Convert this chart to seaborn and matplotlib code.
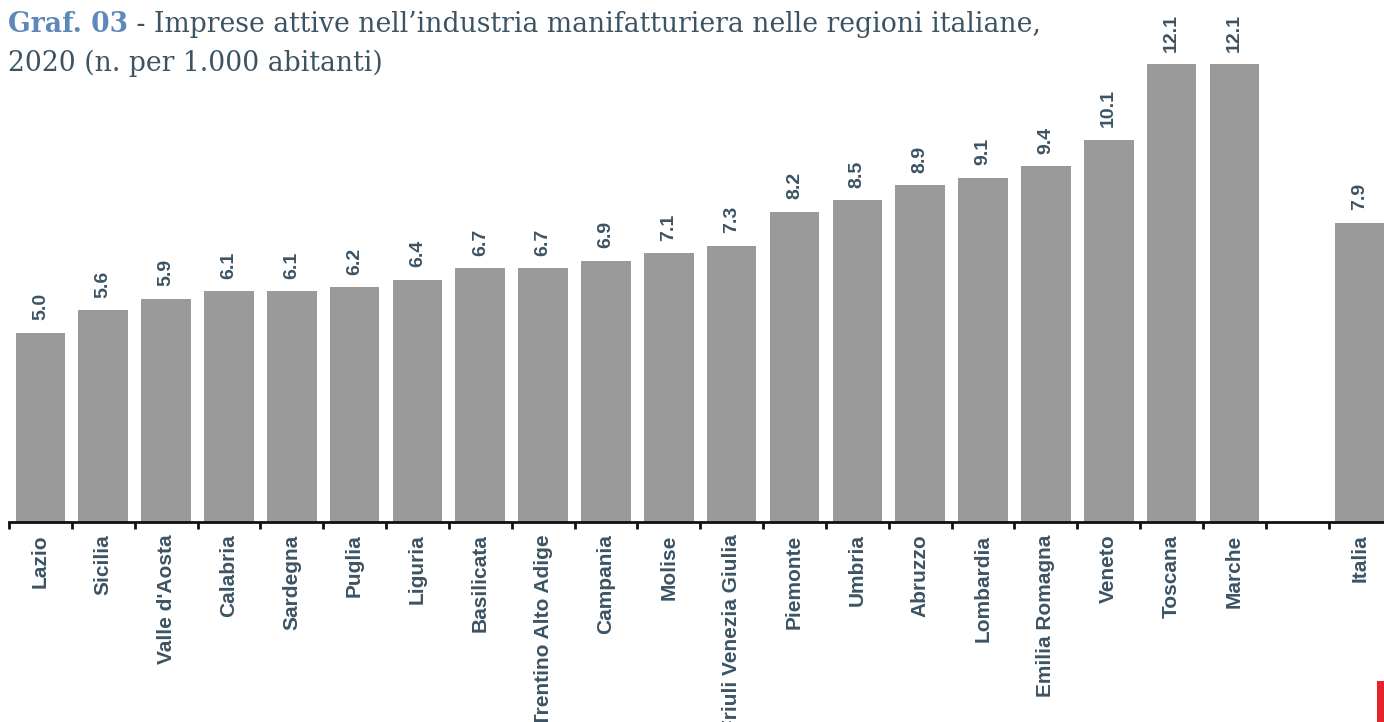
import matplotlib
matplotlib.use("Agg")
import matplotlib.pyplot as plt
from matplotlib.patches import Rectangle
from matplotlib.ticker import FixedLocator
import seaborn as sns
import pandas as pd
import numpy as np

# Active manufacturing firms per 1,000 inhabitants, 2020
regions = ["Lazio", "Sicilia", "Valle d'Aosta", "Calabria", "Sardegna", "Puglia",
           "Liguria", "Basilicata", "Trentino Alto Adige", "Campania", "Molise",
           "Friuli Venezia Giulia", "Piemonte", "Umbria", "Abruzzo", "Lombardia",
           "Emilia Romagna", "Veneto", "Toscana", "Marche"]
region_values = [5.0, 5.6, 5.9, 6.1, 6.1, 6.2, 6.4, 6.7, 6.7, 6.9, 7.1,
                 7.3, 8.2, 8.5, 8.9, 9.1, 9.4, 10.1, 12.1, 12.1]
national_label = "Italia"
national_value = 7.9

TEXT = "#3c5364"
BLUE = "#5d89ba"
BAR = "#999a99"

sns.set_theme(style="white")
plt.rcParams["font.family"] = ["Liberation Sans", "DejaVu Sans"]

df = pd.DataFrame({"area": regions + [national_label],
                   "value": region_values + [national_value]})
order = regions + [" ", national_label]

fig = plt.figure(figsize=(13.84, 7.22), dpi=100)
W, H = 1384, 722
ax = fig.add_axes([9 / W, (H - 522) / H, (W - 9) / W, 522 / H])

sns.barplot(data=df, x="area", y="value", order=order, color=BAR,
            saturation=1, width=0.79, linewidth=0, edgecolor="none", ax=ax)

ax.set_xlim(-0.5, (W - 9) / 62.84 - 0.5)
ax.set_ylim(0, 522 / 37.85)

for container in ax.containers:
    ax.bar_label(container, fmt="%.1f", padding=9, rotation=90,
                 fontsize=14, fontweight="bold", color=TEXT)

ax.set_xlabel("")
ax.set_ylabel("")
ax.set_yticks([])
for side in ["top", "right", "left"]:
    ax.spines[side].set_visible(False)
ax.spines["bottom"].set_color("#111111")
ax.spines["bottom"].set_linewidth(2)

ax.xaxis.set_minor_locator(FixedLocator(np.arange(-0.5, len(order), 1.0)))
ax.tick_params(axis="x", which="minor", bottom=True, length=5, width=2,
               color="#111111", direction="out")
ax.tick_params(axis="x", which="major", length=0, pad=9)
for lbl in ax.get_xticklabels():
    lbl.set_rotation(90)
    lbl.set_fontsize(15)
    lbl.set_fontweight("bold")
    lbl.set_color(TEXT)
    lbl.set_va("top")
    lbl.set_ha("center")

# Heading in two colours, then the second line
serif = ["DejaVu Serif"]
t1 = fig.text(8 / W, 1 - 38 / H, "Graf. 03", family=serif, fontsize=19.2,
              fontweight="bold", color=BLUE, va="bottom", ha="left")
ax.annotate(" - Imprese attive nell\u2019industria manifatturiera nelle regioni italiane,",
            xy=(1, 0), xycoords=t1, family=serif, fontsize=19.2, color=TEXT,
            va="bottom", ha="left", annotation_clip=False)
fig.text(8 / W, 1 - 77 / H, "2020 (n. per 1.000 abitanti)", family=serif,
         fontsize=19.2, color=TEXT, va="bottom", ha="left")

# Red corner marker
fig.patches.append(Rectangle((1377 / W, 0), 7 / W, 41 / H, transform=fig.transFigure,
                             facecolor="#e8212b", edgecolor="none", figure=fig))

fig.savefig("out.png", dpi=100)
